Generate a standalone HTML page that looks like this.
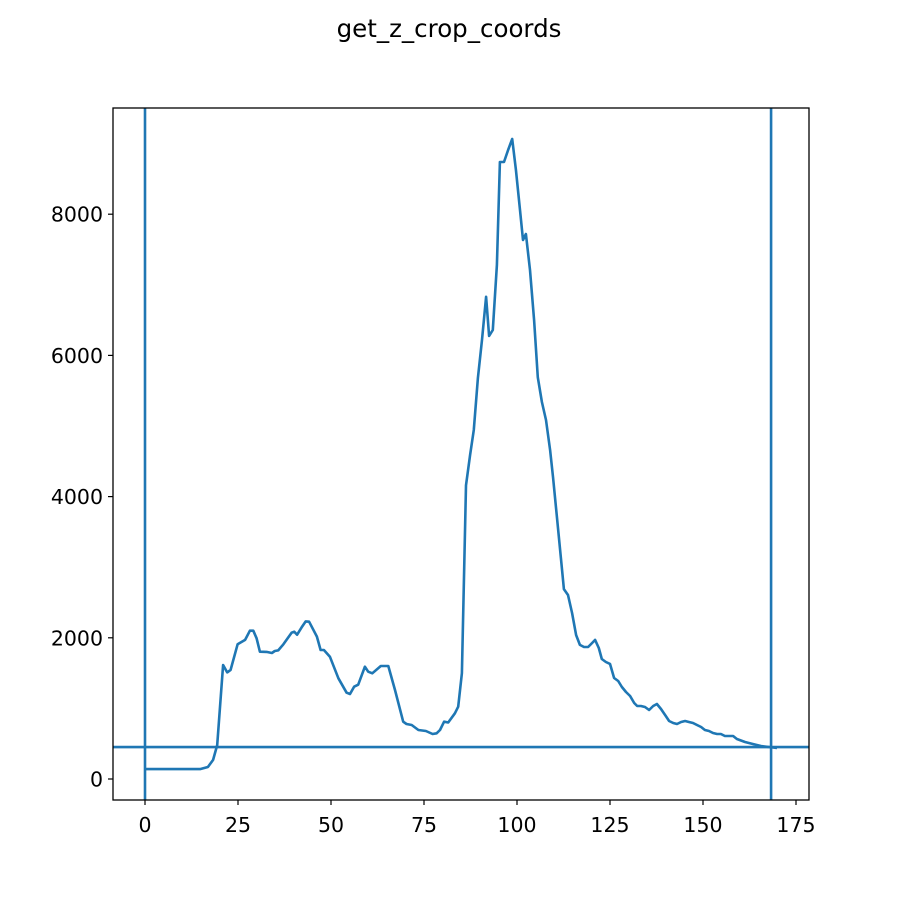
<!DOCTYPE html>
<html><head><meta charset="utf-8"><style>body{margin:0;background:#fff}svg{display:block}text{font-family:"DejaVu Sans","Liberation Sans",sans-serif;fill:#000}</style></head>
<body>
<svg id="c" width="900" height="900">
<text x="449" y="37" font-size="24.5" text-anchor="middle">get_z_crop_coords</text>
</svg>
<script>
const xs=[0,14.8,16.9,18.3,19.4,21.0,22.1,23.0,24.9,26.9,28.2,29.1,30.0,30.9,32.7,34.1,34.9,35.8,37.2,39.4,40.1,40.9,42.1,43.2,44.1,46.2,47.2,48.1,49.7,52.0,54.2,55.1,56.2,57.3,59.1,60.0,61.1,63.4,65.4,67.2,69.4,70.3,71.7,73.5,75.5,77.3,78.4,79.3,80.4,81.5,83.3,84.2,85.2,86.3,87.4,88.4,89.5,90.6,91.7,92.5,93.5,94.6,95.4,96.5,97.6,98.7,99.7,100.8,101.6,102.4,103.5,104.6,105.6,106.7,107.8,108.9,109.7,110.8,111.8,112.6,113.7,114.8,115.9,116.9,118.0,119.1,120.2,121.0,122.0,122.8,123.9,125.0,126.1,127.2,128.2,129.3,130.4,131.5,132.3,133.3,134.4,135.5,136.6,137.6,138.7,139.8,140.9,142.0,143.0,144.1,145.2,146.2,147.3,148.4,149.5,150.5,151.6,152.7,153.8,154.8,155.9,158.1,159.1,161.3,163.4,165.6,167.7,169.9];
const ys=[140,140,170,270,480,1615,1510,1545,1908,1970,2100,2100,1993,1803,1800,1785,1813,1822,1908,2072,2086,2044,2148,2233,2228,2017,1827,1827,1733,1426,1222,1204,1307,1336,1591,1520,1497,1601,1601,1260,812,779,765,694,680,637,647,694,812,800,930,1024,1500,4160,4590,4945,5680,6220,6830,6275,6360,7280,8740,8740,8910,9065,8630,8060,7635,7720,7210,6500,5690,5340,5085,4660,4265,3670,3130,2690,2606,2350,2040,1900,1870,1870,1926,1970,1855,1700,1657,1630,1430,1388,1303,1232,1175,1076,1034,1034,1020,977,1034,1062,992,906,822,793,779,807,822,807,793,765,736,694,680,652,637,637,609,609,566,524,496,467,453,440];
const vlines=[0,168.3];
const hlines=[453];
const xTicks=[0,25,50,75,100,125,150,175];
const yTicks=[0,2000,4000,6000,8000];
const L=113,R=809,T=108,B=800;
const X=v=>145+v*3.72;
const Y=v=>779-v*0.0706;
const svg=document.getElementById('c');
const NS='http://www.w3.org/2000/svg';
function mk(t,a,p){const e=document.createElementNS(NS,t);for(const k in a)e.setAttribute(k,a[k]);(p||svg).appendChild(e);return e;}
const defs=mk('defs',{});const cp=mk('clipPath',{id:'pc'},defs);mk('rect',{x:L,y:T,width:R-L,height:B-T},cp);
const g=mk('g',{'clip-path':'url(#pc)'});
let d='';xs.forEach((x,i)=>{d+=(i?'L':'M')+X(x).toFixed(1)+','+Y(ys[i]).toFixed(1);});
const line=mk('path',{d:d,fill:'none',stroke:'#1f77b4','stroke-width':2.6,'stroke-linejoin':'round'},g);


vlines.forEach(v=>{const l=mk('line',{x1:X(v),x2:X(v),y1:T,y2:B,stroke:'#1f77b4','stroke-width':2.6},g);

});
hlines.forEach(v=>{const l=mk('line',{x1:L,x2:R,y1:Y(v),y2:Y(v),stroke:'#1f77b4','stroke-width':2.6},g);

});
const fr=mk('rect',{x:L,y:T,width:R-L,height:B-T,fill:'none',stroke:'#000','stroke-width':1.3});


xTicks.forEach(v=>{mk('line',{x1:X(v),x2:X(v),y1:B,y2:B+5,stroke:'#000','stroke-width':1.2});
const t=mk('text',{x:X(v),y:B+32,'font-size':20.5,'text-anchor':'middle'});t.textContent=v;

});
yTicks.forEach(v=>{mk('line',{x1:L-5,x2:L,y1:Y(v),y2:Y(v),stroke:'#000','stroke-width':1.2});
const t=mk('text',{x:L-10,y:Y(v)+7.5,'font-size':20.5,'text-anchor':'end'});t.textContent=v;

});
</script>
</body></html>
